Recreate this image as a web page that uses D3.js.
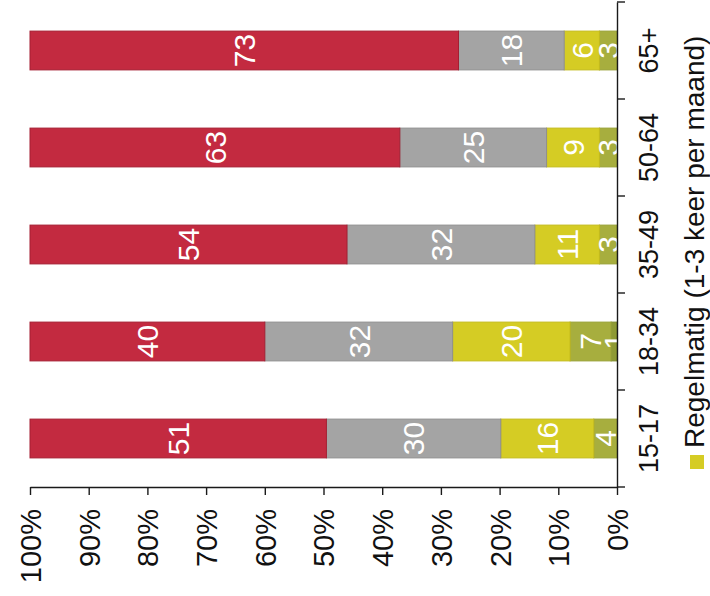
<!DOCTYPE html>
<html>
<head>
<meta charset="utf-8">
<script src="https://cdn.jsdelivr.net/npm/d3@7"></script>
<style>
  html, body { margin: 0; padding: 0; background: #fff; }
  svg { display: block; }
  text { font-family: "Liberation Sans", Arial, Helvetica, sans-serif; }
</style>
</head>
<body>
<svg id="chart" width="710" height="596"></svg>
<script>
// Age groups, from the 0% baseline outward
const categories = ["15-17", "18-34", "35-49", "50-64", "65+"];

// Share per frequency class (percent), one array per series, stacked in this order
const seriesKeys = ["dagelijks", "wekelijks", "regelmatig", "soms", "nooit"];
const dagelijks  = [0, 1, 0, 0, 0];
const wekelijks  = [4, 7, 3, 3, 3];
const regelmatig = [16, 20, 11, 9, 6];
const soms       = [30, 32, 32, 25, 18];
const nooit      = [51, 40, 54, 63, 73];

const seriesColors = ["#8e9a34", "#a7ae3e", "#d5cc24", "#a4a4a4", "#c32a40"];
const seriesStroke = ["#7d8a2c", "#98a035", "#c4bb1c", "#8f8f8f", "#a51f33"];

const valueTicks = [0, 10, 20, 30, 40, 50, 60, 70, 80, 90, 100];
const tickLabels = ["0%", "10%", "20%", "30%", "40%", "50%", "60%", "70%", "80%", "90%", "100%"];

const legendLabel = "Regelmatig (1-3 keer per maand)";

// Rows for the stack layout
const seriesValues = { dagelijks, wekelijks, regelmatig, soms, nooit };
const rows = categories.map((c, i) => {
  const r = { cat: c };
  seriesKeys.forEach(k => { r[k] = seriesValues[k][i]; });
  return r;
});

const stacked = d3.stack()
  .keys(seriesKeys)
  .offset(d3.stackOffsetExpand)(rows);

const svg = d3.select("#chart");

// The value axis runs right-to-left, categories bottom-to-top (text reads upward)
const x = d3.scaleLinear().domain([0, 1]).range([617, 30]);
const y = d3.scaleBand().domain(categories).range([487, 2])
  .paddingInner(0.6).paddingOuter(0.3);

// Bars
const layers = svg.append("g").selectAll("g")
  .data(stacked)
  .join("g")
  .attr("fill", (d, i) => seriesColors[i])
  .attr("stroke", (d, i) => seriesStroke[i])
  .attr("stroke-width", 1);

layers.selectAll("rect")
  .data(d => d.filter(s => s[1] - s[0] > 0))
  .join("rect")
  .attr("x", d => x(d[1]))
  .attr("width", d => x(d[0]) - x(d[1]))
  .attr("y", d => y(d.data.cat))
  .attr("height", y.bandwidth());

// Value labels inside the segments
const labels = svg.append("g");
stacked.forEach((layer, si) => {
  layer.forEach(seg => {
    const v = seg.data[layer.key];
    if (v <= 0) return;
    const cx = (x(seg[0]) + x(seg[1])) / 2;
    const cy = y(seg.data.cat) + y.bandwidth() / 2;
    labels.append("text")
      .attr("transform", `translate(${cx},${cy}) rotate(-90)`)
      .attr("text-anchor", "middle")
      .attr("dy", "0.36em")
      .attr("fill", "#fff")
      .attr("font-size", 30)
      .text(v);
  });
});

// Value axis (percentages)
const xAxis = svg.append("g")
  .attr("transform", "translate(0,487)")
  .call(d3.axisBottom(x)
    .tickValues(valueTicks.map(v => v / 100))
    .tickFormat((d, i) => tickLabels[i])
    .tickSizeInner(8)
    .tickSizeOuter(0));
xAxis.select(".domain").attr("stroke", "#1a1a1a").attr("stroke-width", 1.4);
xAxis.selectAll(".tick line").attr("stroke", "#1a1a1a").attr("stroke-width", 1.4);
xAxis.selectAll(".tick text")
  .attr("x", -22)
  .attr("y", 0)
  .attr("dy", "0.36em")
  .attr("text-anchor", "end")
  .attr("transform", "rotate(-90)")
  .attr("font-size", 29)
  .attr("fill", "#111");

// Category axis
const yAxis = svg.append("g")
  .attr("transform", "translate(617,0)")
  .call(d3.axisRight(y).tickSize(0).tickSizeOuter(0));
yAxis.select(".domain").attr("stroke", "#1a1a1a").attr("stroke-width", 1.4);
yAxis.selectAll(".tick text")
  .attr("x", 0)
  .attr("y", 31)
  .attr("dy", "0.36em")
  .attr("text-anchor", "middle")
  .attr("transform", "rotate(-90)")
  .attr("font-size", 27)
  .attr("fill", "#111");

// Tick marks on the category boundaries
const boundaries = d3.range(categories.length + 1).map(i => y.range()[0] - i * y.step());
yAxis.selectAll(".bound")
  .data(boundaries)
  .join("line")
  .attr("class", "bound")
  .attr("x1", 0).attr("x2", 8)
  .attr("y1", d => d).attr("y2", d => d)
  .attr("stroke", "#1a1a1a")
  .attr("stroke-width", 1.4);

// Legend
const legend = svg.append("g");
legend.append("rect")
  .attr("x", 690).attr("y", 455)
  .attr("width", 14).attr("height", 14)
  .attr("fill", seriesColors[2]);
legend.append("text")
  .attr("transform", "translate(704,448) rotate(-90)")
  .attr("text-anchor", "start")
  .attr("font-size", 28)
  .attr("fill", "#111")
  .text(legendLabel);
</script>
</body>
</html>
